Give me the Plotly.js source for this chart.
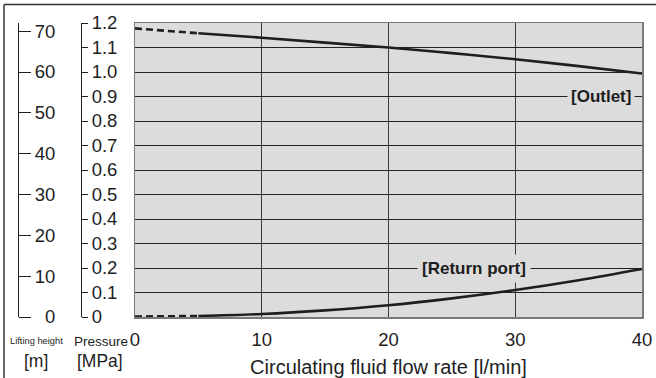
<!DOCTYPE html>
<html>
<head>
<meta charset="utf-8">
<script src="https://cdn.plot.ly/plotly-3.0.1.min.js"></script>
<style>html,body{margin:0;padding:0;background:#fff;}</style>
</head>
<body>
<div id="chart" style="width:656px;height:378px;"></div>
<script>
// Flow rate [l/min]
const flowDashed = [0, 5];
const flowSolid = [5, 10, 15, 20, 25, 30, 35, 40];
// Pressure [MPa]
const outletDashed = [1.178, 1.158];
const outletSolid = [1.158, 1.14, 1.12, 1.10, 1.077, 1.052, 1.024, 0.994];
const returnDashed = [0.002, 0.004];
const returnSolid = [0.004, 0.012, 0.027, 0.048, 0.076, 0.11, 0.15, 0.196];
// Tick labels
const pressureTicks = [0, 0.1, 0.2, 0.3, 0.4, 0.5, 0.6, 0.7, 0.8, 0.9, 1.0, 1.1, 1.2];
const pressureText = ['0', '0.1', '0.2', '0.3', '0.4', '0.5', '0.6', '0.7', '0.8', '0.9', '1.0', '1.1', '1.2'];
const liftTicks = [0, 10, 20, 30, 40, 50, 60, 70];
const flowTicks = [0, 10, 20, 30, 40];
const labels = {outlet: '[Outlet]', ret: '[Return port]'};

const FONT = 'Liberation Sans, Arial, Helvetica, sans-serif';
const BG = '#dcdcdc';
const ink = '#1e1e1e';

function line(x, y, dashed) {
  return {
    x: x, y: y, type: 'scatter', mode: 'lines', xaxis: 'x', yaxis: 'y',
    line: {color: ink, width: 2.6, shape: 'spline', dash: dashed ? '7px,4px' : 'solid'},
    hoverinfo: 'skip', showlegend: false
  };
}

const traces = [
  line(flowDashed, outletDashed, true),
  line(flowSolid, outletSolid, false),
  line(flowDashed, returnDashed, true),
  line(flowSolid, returnSolid, false),
  // invisible traces to register the extra axes
  {x: [0], y: [0], yaxis: 'y2', type: 'scatter', mode: 'markers', marker: {opacity: 0}, hoverinfo: 'skip', showlegend: false},
  {x: [0], y: [0], yaxis: 'y3', type: 'scatter', mode: 'markers', marker: {opacity: 0}, hoverinfo: 'skip', showlegend: false}
];

const W = 642; // plot width in px (margin l=0, r=14)
const H = 294; // plot height in px
const px = v => v / W;
const py = v => (317 - v) / H;

function note(text, x, y, size, extra) {
  return Object.assign({x: px(x), y: py(y), xref: 'paper', yref: 'paper', text: text, showarrow: false,
    xanchor: 'center', yanchor: 'middle', font: {family: FONT, size: size, color: ink}}, extra || {});
}

const layout = {
  width: 656, height: 378,
  margin: {l: 0, r: 14, t: 23, b: 61, pad: 0},
  paper_bgcolor: '#ffffff',
  plot_bgcolor: BG,
  font: {family: FONT, color: ink, size: 18.5},
  showlegend: false,
  xaxis: {
    domain: [135 / W, 1], range: [0, 40], tickvals: flowTicks,
    showgrid: true, gridcolor: '#3a3a3a', gridwidth: 1,
    zeroline: false, showline: true, linecolor: '#7a7a7a', linewidth: 1.5, mirror: true,
    ticks: '', ticklabelstandoff: 5,
    tickfont: {size: 18.5, color: ink},
    title: {text: 'Circulating fluid flow rate [l/min]', font: {size: 20, color: ink}, standoff: 11}
  },
  yaxis: {
    range: [0, 1.2], tickvals: pressureTicks, ticktext: pressureText,
    anchor: 'free', position: px(81), side: 'right',
    ticks: 'outside', ticklen: 6, tickwidth: 1, tickcolor: ink,
    showline: true, linecolor: ink, linewidth: 1,
    showgrid: true, gridcolor: '#222222', gridwidth: 1, zeroline: false,
    tickfont: {size: 18.5, color: ink}
  },
  yaxis2: {
    overlaying: 'y', range: [0, 72], tickvals: liftTicks,
    ticktext: liftTicks.map(v => (v < 10 ? '\u00a0\u00a0' : '') + v),
    anchor: 'free', position: px(18), side: 'right',
    ticks: 'outside', ticklen: 12, tickwidth: 1, tickcolor: ink,
    showline: true, linecolor: ink, linewidth: 1,
    showgrid: false, zeroline: false,
    tickfont: {size: 18.5, color: ink}
  },
  yaxis3: {
    overlaying: 'y', range: [0, 1.2], anchor: 'x', side: 'left',
    showticklabels: false, ticks: '', showgrid: false, zeroline: false,
    showline: true, linecolor: '#7a7a7a', linewidth: 1.5, mirror: true
  },
  annotations: [
    {x: 36.75, y: 0.9, xref: 'x', yref: 'y', text: '<b>' + labels.outlet + '</b>', showarrow: false,
     font: {size: 17, color: ink}, bgcolor: BG, borderpad: 3},
    {x: 26.75, y: 0.2, xref: 'x', yref: 'y', text: '<b>' + labels.ret + '</b>', showarrow: false,
     font: {size: 17, color: ink}, bgcolor: BG, borderpad: 4},
    note('Lifting height', 36.5, 341, 9.3),
    note('[m]', 35.5, 361, 17.5),
    note('Pressure', 100.5, 341, 13.5),
    note('[MPa]', 100, 361, 17.5)
  ],
  shapes: [
    {type: 'line', xref: 'paper', yref: 'paper', x0: px(4), x1: px(660), y0: py(4.5), y1: py(4.5),
     line: {color: '#333', width: 1.5}},
    {type: 'line', xref: 'paper', yref: 'paper', x0: px(4), x1: px(4), y0: py(4.5), y1: py(380),
     line: {color: '#333', width: 1.5}}
  ]
};

Plotly.newPlot('chart', traces, layout, {staticPlot: true, displayModeBar: false});
</script>
</body>
</html>
